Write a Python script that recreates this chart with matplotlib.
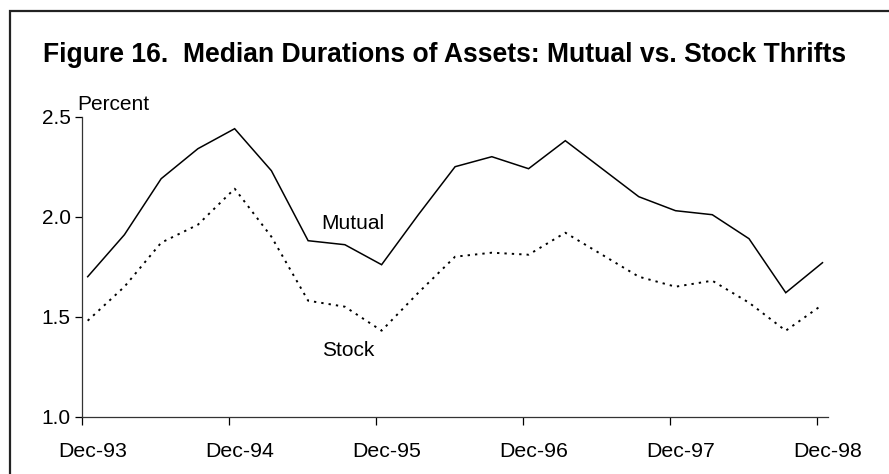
import matplotlib
matplotlib.use("Agg")
import matplotlib.pyplot as plt
import matplotlib.patches as patches

plt.rcParams['font.family'] = ['Liberation Sans', 'DejaVu Sans']

# kwartaalcijfers dec-93 t/m dec-98
kwartalen = list(range(21))
mutual = [1.70, 1.91, 2.19, 2.34, 2.44, 2.23, 1.88, 1.86, 1.76, 2.01, 2.25,
          2.30, 2.24, 2.38, 2.24, 2.10, 2.03, 2.01, 1.89, 1.62, 1.77]
stock = [1.48, 1.65, 1.87, 1.96, 2.14, 1.90, 1.58, 1.55, 1.43, 1.62, 1.80,
         1.82, 1.81, 1.92, 1.81, 1.70, 1.65, 1.68, 1.57, 1.43, 1.56]
jaar_labels = ['Dec-93', 'Dec-94', 'Dec-95', 'Dec-96', 'Dec-97', 'Dec-98']
y_ticks = [1.0, 1.5, 2.0, 2.5]

W, H = 889, 474
fig = plt.figure(figsize=(W / 100, H / 100), dpi=100)
ax = fig.add_axes([81.7 / W, 1 - 416.7 / H, (828 - 81.7) / W, (416.7 - 116.7) / H])

ax.plot(kwartalen, mutual, color='black', lw=1.1, solid_joinstyle='miter')
ax.plot(kwartalen, stock, color='black', lw=1.4, linestyle=(0, (1.2, 2.6)))

ax.set_xlim(-0.163, 20.15)
ax.set_ylim(1.0, 2.5)

# ticks op de jaargrenzen, labels iets naar rechts verschoven
tick_pos = [4 * i - 0.163 for i in range(len(jaar_labels))]
ax.set_xticks(tick_pos)
ax.set_xticklabels([])
ax.set_xticks([p + 0.3 for p in tick_pos], minor=True)
ax.set_xticklabels(jaar_labels, minor=True, fontsize=15.3)
ax.tick_params(axis='x', which='major', direction='out', length=6, width=0.9)
ax.tick_params(axis='x', which='minor', length=0, pad=18)

ax.set_yticks(y_ticks)
ax.set_yticklabels(['%.1f' % v for v in y_ticks], fontsize=15)
ax.tick_params(axis='y', direction='out', length=5, width=0.9, pad=3)

for s in ['top', 'right']:
    ax.spines[s].set_visible(False)
for s in ['left', 'bottom']:
    ax.spines[s].set_linewidth(0.9)
    ax.spines[s].set_color('#333333')

ax.text(6.35, 1.938, 'Mutual', fontsize=15, va='baseline', ha='left')
ax.text(6.38, 1.305, 'Stock', fontsize=15, va='baseline', ha='left')

fig.text(77 / W, 1 - 110 / H, 'Percent', fontsize=15, va='baseline', ha='left')
fig.text(43 / W, 1 - 62 / H,
         'Figure 16.  Median Durations of Assets: Mutual vs. Stock Thrifts',
         fontsize=19.1, fontweight='bold', va='baseline', ha='left')

# kader rond de figuur (rechts en onder buiten beeld)
kader = patches.Rectangle((10 / W, -0.1), 1.2, 1 - 11 / H + 0.1,
                          transform=fig.transFigure, fill=False,
                          edgecolor='#222222', lw=1.6, clip_on=False)
fig.patches.append(kader)

fig.savefig('out.png', dpi=100)
